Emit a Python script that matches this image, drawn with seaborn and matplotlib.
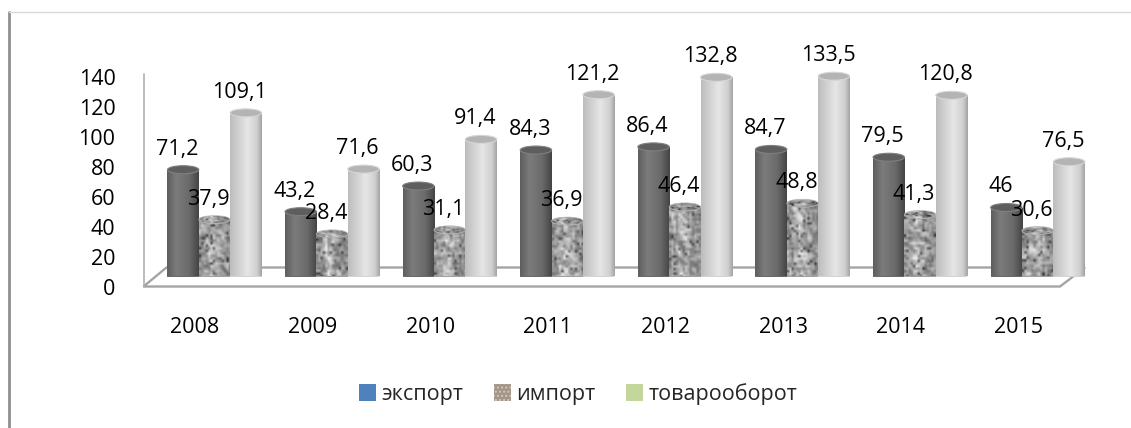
import numpy as np
import pandas as pd
import matplotlib
matplotlib.use("Agg")
import matplotlib.pyplot as plt
from matplotlib.patches import Ellipse, Polygon, Patch
from matplotlib.lines import Line2D
from matplotlib.transforms import ScaledTranslation
import seaborn as sns

# ---- data -------------------------------------------------------------
years = ["2008", "2009", "2010", "2011", "2012", "2013", "2014", "2015"]
export_vals = [71.2, 43.2, 60.3, 84.3, 86.4, 84.7, 79.5, 46]
import_vals = [37.9, 28.4, 31.1, 36.9, 46.4, 48.8, 41.3, 30.6]
turnover_vals = [109.1, 71.6, 91.4, 121.2, 132.8, 133.5, 120.8, 76.5]
series_names = ["экспорт", "импорт", "товарооборот"]
y_ticks = [0, 20, 40, 60, 80, 100, 120, 140]

# ---- style ------------------------------------------------------------
W, H = 1131, 428
sns.set_theme(style="white")
plt.rcParams["font.family"] = ["Open Sans", "DejaVu Sans"]
FS = 15.5

df = pd.DataFrame({
    "year": years * 3,
    "series": [series_names[0]] * 8 + [series_names[1]] * 8 + [series_names[2]] * 8,
    "value": export_vals + import_vals + turnover_vals,
})

fig = plt.figure(figsize=(W / 100, H / 100), dpi=100)
fig.patch.set_facecolor("white")

# plot area in pixels: value 0 at y=276.5, 140 at y=66.5
AX_L, AX_R, AX_B, AX_T = 155.7, 1096.5, 276.5, 66.5
ax = fig.add_axes([AX_L / W, 1 - AX_B / H, (AX_R - AX_L) / W, (AX_B - AX_T) / H])
ax.set_facecolor("none")

base_cols = {"экспорт": "#6a6a6a", "импорт": "#a0a0a0", "товарооборот": "#d2d2d2"}
sns.barplot(data=df, x="year", y="value", hue="series", hue_order=series_names,
            palette=base_cols, saturation=1, width=0.8, gap=0, dodge=True,
            legend=False, ax=ax, zorder=2)

px_per_unit = (AX_B - AX_T) / 140.0
ell_h = 8.0 / px_per_unit  # cap height in data units


def hex2rgb(h):
    h = h.lstrip("#")
    return np.array([int(h[i:i + 2], 16) for i in (0, 2, 4)]) / 255.0


def shade_profile(stops, n=64):
    pos = np.array([s[0] for s in stops])
    cols = np.array([hex2rgb(s[1]) for s in stops])
    xs = np.linspace(0, 1, n)
    return np.stack([np.interp(xs, pos, cols[:, k]) for k in range(3)], axis=-1)


body_stops = {
    "экспорт": [(0, "#5e5e5e"), (0.3, "#7c7c7c"), (0.7, "#6a6a6a"), (1, "#444444")],
    "товарооборот": [(0, "#bdbdbd"), (0.55, "#e6e6e6"), (0.85, "#cfcfcf"), (1, "#a4a4a4")],
}
cap_cols = {"экспорт": ("#5e5e5e", "#808080"), "товарооборот": ("#b4b4b4", "#d6d6d6")}

rng = np.random.default_rng(11)


def granite(rows, cols):
    t = rng.random((rows, cols))
    t = (t + 0.5 * np.roll(t, 1, 0) + 0.5 * np.roll(t, 1, 1)) / 2.0
    t = (t - t.min()) / (t.max() - t.min() + 1e-9)
    g = 0.42 + 0.52 * t
    specks = rng.random((rows, cols)) > 0.94
    g[specks] *= 0.45
    shade = np.interp(np.linspace(0, 1, cols), [0, 0.35, 1], [0.86, 1.06, 0.8])
    g = np.clip(g * shade[None, :], 0, 1)
    return np.repeat(g[:, :, None], 3, axis=2)


for name, cont in zip(series_names, ax.containers):
    for rect in cont.patches:
        x0 = rect.get_x()
        w = rect.get_width()
        h = rect.get_height()
        xc = x0 + w / 2
        rect.set_edgecolor("none")
        if name == "импорт":
            rows = max(6, int(h * px_per_unit / 2.3))
            img = granite(rows, 14)
        else:
            img = shade_profile(body_stops[name])[None, :, :]
        extent = [x0, x0 + w, -ell_h / 2, h]
        im1 = ax.imshow(img, extent=extent, aspect="auto", origin="lower",
                        interpolation="bilinear", zorder=3)
        im1.set_clip_path(rect)
        bottom = Ellipse((xc, 0), w, ell_h, transform=ax.transData,
                         facecolor="none", edgecolor="none")
        ax.add_patch(bottom)
        im2 = ax.imshow(img, extent=extent, aspect="auto", origin="lower",
                        interpolation="bilinear", zorder=3)
        im2.set_clip_path(bottom)
        # top face of the cylinder
        if name == "импорт":
            cap = Ellipse((xc, h), w, ell_h, facecolor="none", edgecolor="#b5b5b5",
                          lw=0.6, zorder=5)
            ax.add_patch(cap)
            cap_img = granite(6, 14) * 0.92
            im3 = ax.imshow(cap_img, extent=[x0, x0 + w, h - ell_h / 2, h + ell_h / 2],
                            aspect="auto", origin="lower", interpolation="bilinear", zorder=4)
            im3.set_clip_path(cap)
        else:
            fc, ec = cap_cols[name]
            cap = Ellipse((xc, h), w, ell_h, facecolor=fc, edgecolor=ec, lw=0.8, zorder=4)
            ax.add_patch(cap)
        lbl = f"{h:g}".replace(".", ",")
        ax.annotate(lbl, (xc, h), xytext=(-6, 15), textcoords="offset pixels",
                    ha="center", va="baseline", fontsize=FS, color="black", zorder=6)

ax.set_xlim(-0.5, 7.5)
ax.set_ylim(0, 140)
ax.set_aspect("auto")
for s in ax.spines.values():
    s.set_visible(False)
ax.set_xlabel("")
ax.set_ylabel("")
ax.set_yticks(y_ticks)
ax.set_yticklabels([str(v) for v in y_ticks])
ax.tick_params(axis="both", length=0, labelsize=FS, colors="black")
ax.tick_params(axis="y", pad=29)
ax.tick_params(axis="x", pad=29)
for t in ax.get_yticklabels():
    t.set_transform(t.get_transform() + ScaledTranslation(0, -0.108, fig.dpi_scale_trans))
for t in ax.get_xticklabels():
    t.set_transform(t.get_transform() + ScaledTranslation(-0.195, 0, fig.dpi_scale_trans))


def fpt(x, y):
    return (x / W, 1 - y / H)


# floor and back wall edge of the 3D plot area
floor = Polygon([fpt(143.5, 286.5), fpt(166.5, 267.5), fpt(1085, 267.5), fpt(1060, 286.5)],
                closed=True, transform=fig.transFigure, facecolor="white",
                edgecolor="#a4a4a4", lw=1.7, zorder=0.5, clip_on=False)
ax.add_patch(floor)
ax.add_line(Line2D([143.5 / W, 143.5 / W], [1 - 74 / H, 1 - 286.5 / H],
                   transform=fig.transFigure, color="#b0b0b0", lw=1.2,
                   zorder=0.6, clip_on=False))

# outer chart border
fig.add_artist(Line2D([8.5 / W, 8.5 / W], [1 - 12 / H, 0], color="#8f8f8f", lw=2.0))
fig.add_artist(Line2D([9 / W, 1.0], [1 - 12.3 / H, 1 - 12.3 / H], color="#d9d9d9", lw=1.0))

# legend
handles = [
    Patch(facecolor="#4f81bd", edgecolor="none"),
    Patch(facecolor="#a39587", edgecolor="#d2c8be", hatch="....", lw=0),
    Patch(facecolor="#c3d69b", edgecolor="none"),
]
fig.legend(handles, series_names, loc="center", bbox_to_anchor=(578 / W, 1 - 394 / H),
           ncol=3, frameon=False, fontsize=FS, handlelength=0.8, handleheight=0.9,
           handletextpad=0.25, columnspacing=1.4)

fig.savefig("out.png", dpi=100, facecolor="white")
